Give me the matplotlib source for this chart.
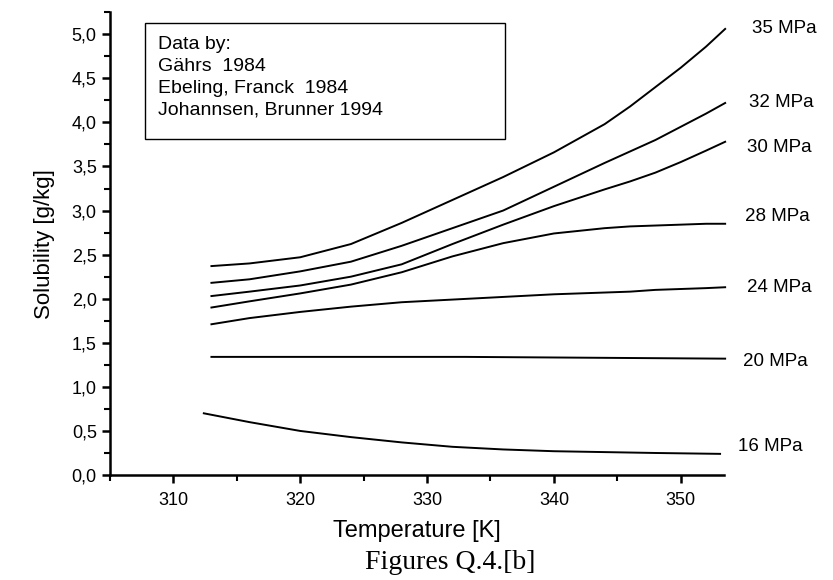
import numpy as np
import matplotlib
matplotlib.use('Agg')
import matplotlib.pyplot as plt
from matplotlib.ticker import MultipleLocator, FuncFormatter

plt.rcParams['font.family'] = ['Liberation Sans', 'DejaVu Sans']

#temperature grid [K]
T_main = [313, 316, 320, 324, 328, 332, 336, 340, 344, 346, 348, 350, 352, 353.5]

#solubility [g/kg]
s_35 = [2.37, 2.40, 2.47, 2.62, 2.86, 3.12, 3.38, 3.66, 3.98, 4.18, 4.40, 4.62, 4.86, 5.06]
s_32 = [2.18, 2.22, 2.31, 2.42, 2.60, 2.80, 3.00, 3.27, 3.54, 3.67, 3.80, 3.95, 4.10, 4.22]
s_30 = [2.03, 2.08, 2.15, 2.25, 2.39, 2.62, 2.84, 3.05, 3.24, 3.33, 3.43, 3.55, 3.68, 3.78]
s_28 = [1.90, 1.97, 2.06, 2.16, 2.30, 2.48, 2.63, 2.74, 2.80, 2.82, 2.83, 2.84, 2.85, 2.85]
s_24 = [1.71, 1.78, 1.85, 1.91, 1.96, 1.99, 2.02, 2.05, 2.07, 2.08, 2.10, 2.11, 2.12, 2.13]

T_20 = [313, 333, 353.5]
s_20 = [1.34, 1.34, 1.32]

T_16 = [312.4, 316, 320, 324, 328, 332, 336, 340, 344, 348, 353.1]
s_16 = [0.70, 0.60, 0.50, 0.43, 0.37, 0.32, 0.29, 0.27, 0.26, 0.25, 0.24]

#curve labels and their positions
labels = ['35 MPa', '32 MPa', '30 MPa', '28 MPa', '24 MPa', '20 MPa', '16 MPa']
label_T = [355.6, 355.4, 355.2, 355.1, 355.2, 354.9, 354.5]
label_s = [5.07, 4.22, 3.72, 2.93, 2.13, 1.29, 0.32]

legend_lines = ['Data by:', 'Gährs  1984', 'Ebeling, Franck  1984', 'Johannsen, Brunner 1994']

fig = plt.figure(figsize=(8.33, 5.80), dpi=100)
ax = fig.add_axes([0.132, 0.181, 0.737, 0.798])

for T, s in [(T_main, s_35), (T_main, s_32), (T_main, s_30), (T_main, s_28),
             (T_main, s_24), (T_20, s_20), (T_16, s_16)]:
    ax.plot(T, s, color='black', linewidth=1.4, clip_on=False)

for lab, t, s in zip(labels, label_T, label_s):
    ax.text(t, s, lab, fontsize=13.5, va='center', ha='left', clip_on=False)

ax.set_xlim(305, 353.4)
ax.set_ylim(0, 5.25)

ax.spines['top'].set_visible(False)
ax.spines['right'].set_visible(False)
ax.spines['left'].set_linewidth(1.8)
ax.spines['bottom'].set_linewidth(1.8)

ax.xaxis.set_major_locator(MultipleLocator(10))
ax.xaxis.set_minor_locator(MultipleLocator(5))
ax.yaxis.set_major_locator(MultipleLocator(0.5))
ax.yaxis.set_minor_locator(MultipleLocator(0.25))
ax.yaxis.set_major_formatter(FuncFormatter(lambda v, p: ('%.1f' % v).replace('.', ',')))

ax.tick_params(which='major', direction='out', length=6, width=1.8, labelsize=13)
ax.tick_params(which='minor', direction='out', length=4, width=1.5)
ax.tick_params(axis='x', pad=6)

ax.set_xlabel('Temperature [K]', fontsize=17, labelpad=8)
ax.set_ylabel('Solubility [g/kg]', fontsize=16, labelpad=12)

#legend box with source text
box = plt.Rectangle((0.057, 0.726), 0.586, 0.25, transform=ax.transAxes,
                    fill=False, edgecolor='black', linewidth=1.0)
ax.add_patch(box)
for i, line in enumerate(legend_lines):
    ax.text(0.078, 0.931 - i * 0.0475, line, transform=ax.transAxes,
            fontsize=14, va='center', ha='left')

fig.text(0.541, 0.031, 'Figures Q.4.[b]', fontsize=20, ha='center', va='center',
         family=['Liberation Serif', 'DejaVu Serif'])

plt.savefig('out.png', dpi=100)
